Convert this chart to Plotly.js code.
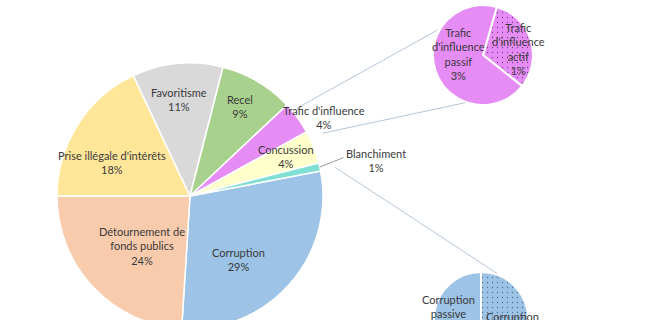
<!DOCTYPE html>
<html><head><meta charset="utf-8">
<script src="https://cdn.plot.ly/plotly-3.0.1.min.js"></script>
<style>
html,body{margin:0;padding:0;overflow:hidden;background:#fff;width:648px;height:320px}
#chart{width:648px;height:380px}
</style>
</head><body><div id="chart"></div>
<script>
// ---- data ----
const categories = ["Corruption", "Détournement de<br>fonds publics", "Prise illégale d'intérêts", "Favoritisme", "Recel", "Trafic d'influence", "Concussion", "Blanchiment"];
const shares = [29, 24, 18, 11, 9, 4, 4, 1];
const traficLabels = ["Trafic<br>d'influence<br>actif", "Trafic<br>d'influence<br>passif"];
const traficShares = [1.25, 2.75];
const corrLabels = ["Corruption<br>active", "Corruption<br>passive"];
const corrShares = [16, 13];

// ---- styles / layout constants ----
const mainColors = ["#9DC3E6", "#F8CBAD", "#FFE699", "#D9D9D9", "#A9D18E", "#E68CF5", "#FFFFCC", "#7EDFD2"];
const W = 648, H = 380;
const mainGeo = {cx: 190, cy: 196, R: 133};
const trafGeo = {cx: 483, cy: 55, R: 50};
const corrGeo = {cx: 481, cy: 319, R: 47};
// label placement: [angle (deg clockwise from top), radius fraction]
const mainLabelPos = [[143, 0.60], [224, 0.52], [293, 0.64], [353.5, 0.73], [29.3, 0.77], [59.6, 1.17], [67.9, 0.78], [79.2, 1.42]];
const trafLabelPos = [[80.5, 0.73], [272, 0.5]];
const corrLabelPos = [[111, 0.71], [279, 0.69]];
const txtFont = {family: "Lato, 'Open Sans', sans-serif", size: 11, color: "#3a3a3a"};

const total = shares.reduce((a, b) => a + b, 0);
const pct = v => Math.round(100 * v / total) + "%";
const rot = 270 - 360 * (shares[0] + shares[1]) / total;

function domainOf(g) {
  return {x: [(g.cx - g.R) / W, (g.cx + g.R) / W], y: [1 - (g.cy + g.R) / H, 1 - (g.cy - g.R) / H]};
}
function pt(g, angDeg, frac) {
  const a = angDeg * Math.PI / 180;
  return [g.cx + frac * g.R * Math.sin(a), g.cy - frac * g.R * Math.cos(a)];
}
function px2paper(p) { return [p[0] / W, 1 - p[1] / H]; }

// slice boundary angles of main pie
const bounds = [];
let acc = rot;
shares.forEach(v => { bounds.push([acc, acc + 360 * v / total]); acc += 360 * v / total; });

const violet = "#E68CF5", blue = "#9DC3E6";
const traces = [
  {type: "pie", values: shares, labels: categories, sort: false, direction: "clockwise", rotation: rot,
   marker: {colors: mainColors, line: {color: "#ffffff", width: 1.5}},
   textinfo: "none", hoverinfo: "skip", domain: domainOf(mainGeo), showlegend: false},
  {type: "pie", values: traficShares, labels: traficLabels, sort: false, direction: "clockwise", rotation: 16,
   marker: {colors: [violet, violet], line: {color: "#ffffff", width: 2},
            pattern: {shape: [".", ""], fgcolor: "#7a3f86", bgcolor: [violet, violet], size: 5, solidity: 0.05}},
   textinfo: "none", hoverinfo: "skip", domain: domainOf(trafGeo), showlegend: false},
  {type: "pie", values: corrShares, labels: corrLabels, sort: false, direction: "clockwise", rotation: 0,
   marker: {colors: [blue, blue], line: {color: "#ffffff", width: 2},
            pattern: {shape: [".", ""], fgcolor: "#4a6a8c", bgcolor: [blue, blue], size: 5, solidity: 0.05}},
   textinfo: "none", hoverinfo: "skip", domain: domainOf(corrGeo), showlegend: false}
];

const annotations = [];
function addLabels(g, labels, vals, pos) {
  labels.forEach((lab, i) => {
    const p = px2paper(pt(g, pos[i][0], pos[i][1]));
    annotations.push({xref: "paper", yref: "paper", x: p[0], y: p[1], xanchor: "center", yanchor: "middle",
      showarrow: false, align: "center", text: lab + "<br>" + pct(vals[i]), font: txtFont});
  });
}
addLabels(mainGeo, categories, shares, mainLabelPos);
addLabels(trafGeo, traficLabels, traficShares, trafLabelPos);
addLabels(corrGeo, corrLabels, corrShares, corrLabelPos);

const shapes = [];
function seg(p, q, color) {
  const a = px2paper(p), b = px2paper(q);
  shapes.push({type: "line", xref: "paper", yref: "paper", x0: a[0], y0: a[1], x1: b[0], y1: b[1],
    line: {color: color, width: 1}});
}
const conn = "#B4C6D8";
const tIdx = 5, bIdx = 7;
seg(pt(mainGeo, bounds[tIdx][0] + 3.8, 1.04), pt(trafGeo, 298.5, 1.04), conn);
seg(pt(mainGeo, bounds[tIdx][1] + 3.5, 1.105), pt(trafGeo, 200.6, 1.02), conn);
seg(pt(mainGeo, bounds[0][0] - 0.5, 1.11), pt(corrGeo, 19.2, 1.03), conn);
// Blanchiment leader line
const bMid = (bounds[bIdx][0] + bounds[bIdx][1]) / 2;
const bLab = pt(mainGeo, mainLabelPos[bIdx][0], mainLabelPos[bIdx][1]);
seg(pt(mainGeo, bMid, 1.0), [bLab[0] - 32, bLab[1] - 3], "#9a9a9a");

Plotly.newPlot("chart", traces, {
  width: W, height: H, margin: {l: 0, r: 0, t: 0, b: 0},
  paper_bgcolor: "#ffffff", plot_bgcolor: "#ffffff",
  annotations: annotations, shapes: shapes, showlegend: false
}, {staticPlot: true});
</script>
</body></html>
